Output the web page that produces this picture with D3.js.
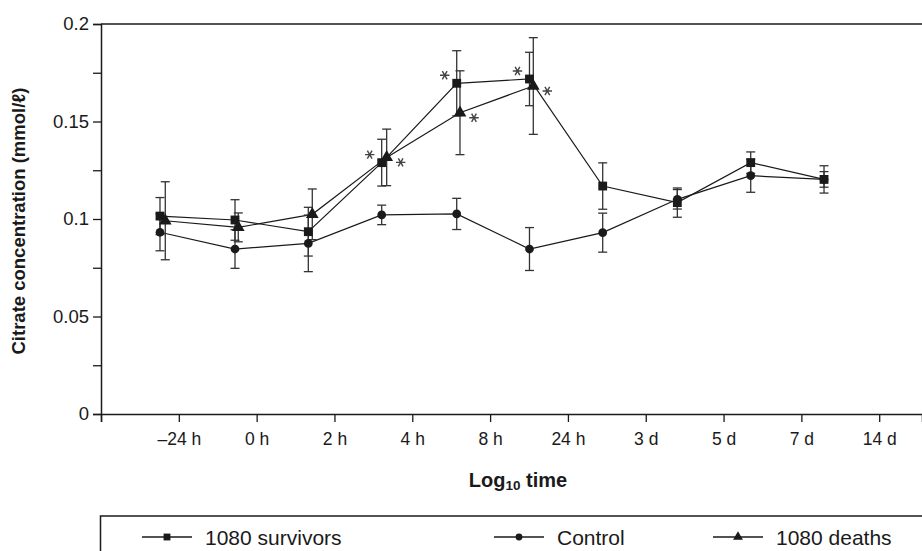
<!DOCTYPE html>
<html><head><meta charset="utf-8">
<script src="https://cdn.jsdelivr.net/npm/d3@7"></script>
<style>
body{margin:0;background:#fff;}
svg{display:block;font-family:"Liberation Sans",Arial,Helvetica,sans-serif;}
</style></head>
<body><svg id="chart" width="922" height="551"></svg>
<script>
// ---- data ----
const tickLabels = ["\u201324 h","0 h","2 h","4 h","8 h","24 h","3 d","5 d","7 d","14 d"];
const tickSlots = [1,2,3,4,5,6,7,8,9,10];
// sample positions on the (log-time) slot axis
const sampleX = [0.758,1.722,2.664,3.607,4.571,5.506,6.447,7.406,8.349,9.291];
const deathsX = [0.826,1.764,2.715,3.671,4.613,5.555];

const survivors    = [0.1015,0.0995,0.0935,0.1289,0.1696,0.1718,0.1169,0.1084,0.1289,0.1203];
const survivorsErr = [0.0095,0.0104,0.0125,0.0120,0.0167,0.0137,0.0119,0.0075,0.0055,0.0070];
const control      = [0.0932,0.0846,0.0875,0.1021,0.1026,0.0846,0.0930,0.1101,0.1222,0.1203];
const controlErr   = [0.0095,0.0099,0.0145,0.0050,0.0080,0.0110,0.0100,0.0050,0.0085,0.0040];
const deaths       = [0.0991,0.0957,0.1024,0.1316,0.1545,0.1682];
const deathsErr    = [0.0200,0.0074,0.0130,0.0145,0.0215,0.0248];
// significance markers (index of sample)
const survivorsSig = [3,4,5];
const deathsSig    = [3,4,5];

const yTicks = [0,0.05,0.1,0.15,0.2];
const yMinor = [0.025,0.075,0.125,0.175];

// ---- drawing ----
const svg = d3.select("#chart");
const x = d3.scaleLinear().domain([0,10.55]).range([101,922]);
const y = d3.scaleLinear().domain([0,0.2]).range([414,24]);
const ink = "#1a1a1a";

// top frame line
svg.append("line").attr("x1",x(0)).attr("x2",922).attr("y1",y(0.2)).attr("y2",y(0.2))
  .attr("stroke",ink).attr("stroke-width",1.5);

// y axis
const yAx = svg.append("g").attr("transform",`translate(${x(0)},0)`)
  .call(d3.axisLeft(y).tickValues(yTicks.concat(yMinor)).tickSize(8)
    .tickFormat(d=> yTicks.includes(d) ? String(d) : ""));
yAx.select(".domain").attr("stroke",ink).attr("stroke-width",1.5);
yAx.selectAll(".tick line").attr("stroke",ink).attr("stroke-width",1.3);
yAx.selectAll(".tick text").attr("font-size",18.5).attr("fill",ink).attr("x",-12)
  .attr("font-family","Liberation Sans, Arial, sans-serif");

// x axis
const xAx = svg.append("g").attr("transform",`translate(0,${y(0)})`)
  .call(d3.axisBottom(x).tickValues([0].concat(tickSlots)).tickSize(8)
    .tickFormat(d=> d===0 ? "" : tickLabels[tickSlots.indexOf(d)]));
xAx.select(".domain").attr("stroke",ink).attr("stroke-width",1.5);
xAx.selectAll(".tick line").attr("stroke",ink).attr("stroke-width",1.3);
xAx.selectAll(".tick text").attr("font-size",17.5).attr("fill",ink).attr("y",19)
  .attr("font-family","Liberation Sans, Arial, sans-serif");

// axis titles
svg.append("text").attr("transform","translate(25,221) rotate(-90)")
  .attr("text-anchor","middle").attr("font-weight","bold").attr("font-size",18.5).attr("fill",ink)
  .text("Citrate concentration (mmol/\u2113)");
const xt = svg.append("text").attr("x",518).attr("y",487).attr("text-anchor","middle")
  .attr("font-weight","bold").attr("font-size",20).attr("fill",ink);
xt.append("tspan").text("Log");
xt.append("tspan").attr("font-size",13.5).attr("dy",3).text("10");
xt.append("tspan").attr("dy",-3).text(" time");

// series definitions
const series = [
  {name:"1080 survivors", xs:sampleX, v:survivors, e:survivorsErr, shape:"square", sig:survivorsSig, sdx:-12, sdy:-8},
  {name:"Control", xs:sampleX, v:control, e:controlErr, shape:"circle", sig:[], sdx:0, sdy:0},
  {name:"1080 deaths", xs:deathsX, v:deaths, e:deathsErr, shape:"triangle", sig:deathsSig, sdx:14, sdy:5}
];
const sym = {square:d3.symbolSquare, circle:d3.symbolCircle, triangle:d3.symbolTriangle};
const symSize = {square:78, circle:60, triangle:70};

const line = d3.line().x(d=>x(d[0])).y(d=>y(d[1]));
const plot = svg.append("g");
series.forEach(s=>{
  const pts = s.v.map((v,i)=>[s.xs[i],v,s.e[i]]);
  plot.append("path").datum(pts).attr("d",line).attr("fill","none")
    .attr("stroke",ink).attr("stroke-width",1.2);
});
series.forEach(s=>{
  const pts = s.v.map((v,i)=>[s.xs[i],v,s.e[i]]);
  const g = plot.append("g").attr("stroke","#333").attr("stroke-width",1.3);
  pts.forEach(p=>{
    const cx = x(p[0]);
    g.append("line").attr("x1",cx).attr("x2",cx).attr("y1",y(p[1]+p[2])).attr("y2",y(p[1]-p[2]));
    [p[1]+p[2],p[1]-p[2]].forEach(v=>{
      g.append("line").attr("x1",cx-4.5).attr("x2",cx+4.5).attr("y1",y(v)).attr("y2",y(v));
    });
  });
});
const asterisk = d3.symbol(d3.symbolAsterisk, 62);
series.forEach(s=>{
  const pts = s.v.map((v,i)=>[s.xs[i],v]);
  plot.append("g").selectAll("path").data(pts).join("path")
    .attr("transform",d=>`translate(${x(d[0])},${y(d[1])})`)
    .attr("d",d3.symbol(sym[s.shape],symSize[s.shape])).attr("fill",ink);
  plot.append("g").selectAll("path").data(s.sig).join("path")
    .attr("transform",i=>`translate(${x(s.xs[i])+s.sdx},${y(s.v[i])+s.sdy}) rotate(90)`)
    .attr("d",asterisk).attr("fill","none").attr("stroke","#444").attr("stroke-width",1.4);
});

// legend
svg.append("rect").attr("x",100.5).attr("y",516).attr("width",840).attr("height",60)
  .attr("fill","none").attr("stroke",ink).attr("stroke-width",1.5);
const legX = [142,494,713];
series.forEach((s,i)=>{
  const g = svg.append("g").attr("transform",`translate(${legX[i]},537)`);
  g.append("line").attr("x1",0).attr("x2",50).attr("stroke",ink).attr("stroke-width",1.3);
  g.append("path").attr("transform","translate(25,0)")
    .attr("d",d3.symbol(sym[s.shape],symSize[s.shape]*0.6)).attr("fill",ink);
  g.append("text").attr("x",63).attr("y",7.5).attr("font-size",21).attr("fill",ink).text(s.name);
});
</script></body></html>
